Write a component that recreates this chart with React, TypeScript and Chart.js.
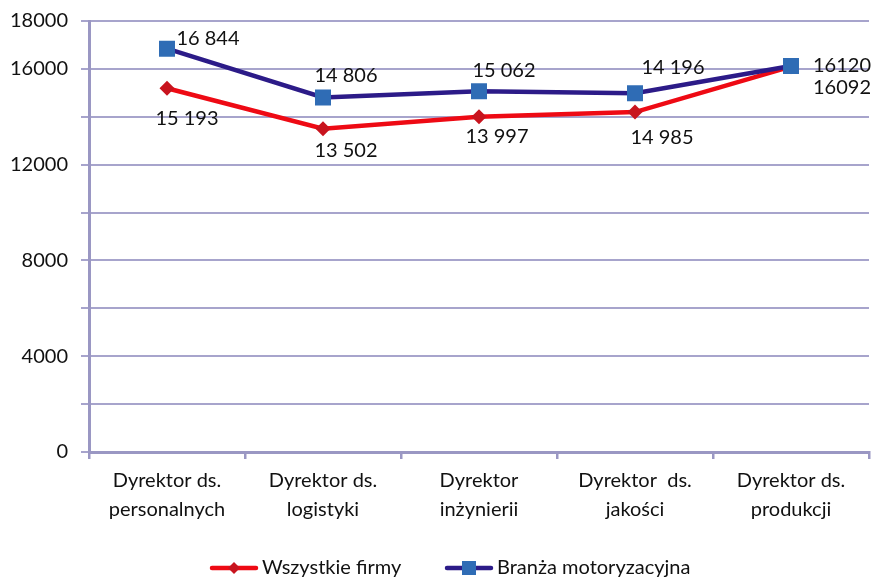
import React, { useEffect, useRef } from "react";
import { Chart, registerables } from "chart.js";

Chart.register(...registerables);

const categories: string[][] = [
  ["Dyrektor ds.", "personalnych"],
  ["Dyrektor ds.", "logistyki"],
  ["Dyrektor", "inżynierii"],
  ["Dyrektor  ds.", "jakości"],
  ["Dyrektor ds.", "produkcji"],
];

const seriesNames = ["Wszystkie firmy", "Branża motoryzacyjna"];

const wszystkieFirmy = [15193, 13502, 13997, 14196, 16092];
const branzaMotoryzacyjna = [16844, 14806, 15062, 14985, 16120];

// value labels exactly as printed on the chart
const wszystkieFirmyLabels = ["15 193", "13 502", "13 997", "14 985", "16092"];
const branzaLabels = ["16 844", "14 806", "15 062", "14 196", "16120"];

const yMin = 0;
const yMax = 18000;
const yStep = 2000;
const yLabelled = [0, 4000, 8000, 12000, 16000, 18000];

// style: label offsets (text centre relative to the point), like manual Excel placements
const redLabelOffsets = [
  [20, 30],
  [23, 22],
  [18, 20],
  [27, 25],
  [51, 21],
];
const blueLabelOffsets = [
  [41, -10],
  [23, -22],
  [25, -21],
  [38, -26],
  [51, 0],
];

const FONT = "Lato, 'Open Sans', sans-serif";
const FS = 20;
const TEXT = "#111111";
const GRID = "#a7a4cc";
const AXIS = "#9a97c3";
const RED_LINE = "#ee0a14";
const RED_MARK = "#c8141e";
const BLUE_LINE = "#2c1b88";
const BLUE_MARK = "#2f6cb5";

const valueLabelsPlugin = {
  id: "valueLabels",
  afterDatasetsDraw(chart: any) {
    const ctx = chart.ctx;
    ctx.save();
    ctx.font = `${FS}px ${FONT}`;
    ctx.fillStyle = TEXT;
    ctx.textAlign = "center";
    ctx.textBaseline = "middle";
    chart.data.datasets.forEach((ds: any, i: number) => {
      const meta = chart.getDatasetMeta(i);
      const texts: string[] = ds.valueTexts || [];
      const offs: number[][] = ds.labelOffsets || [];
      meta.data.forEach((pt: any, j: number) => {
        const o = offs[j] || [0, 0];
        ctx.fillText(texts[j], pt.x + o[0], pt.y + o[1]);
      });
    });
    ctx.restore();
  },
};

const legendPlugin = {
  id: "lineMarkerLegend",
  afterDraw(chart: any) {
    const ctx = chart.ctx;
    ctx.save();
    ctx.font = `${FS}px ${FONT}`;
    const sampleW = 48;
    const gapText = 4;
    const startX = 210;
    const pitch = 235;
    const y = 568;
    chart.data.datasets.forEach((ds: any, i: number) => {
      const x = startX + i * pitch;
      ctx.strokeStyle = ds.borderColor;
      ctx.lineWidth = 4.5;
      ctx.lineCap = "round";
      ctx.beginPath();
      ctx.moveTo(x + 2, y);
      ctx.lineTo(x + sampleW - 2, y);
      ctx.stroke();
      const cx = x + sampleW / 2;
      ctx.fillStyle = ds.pointBackgroundColor;
      ctx.beginPath();
      if (ds.pointStyle === "rectRot") {
        const r = 6;
        ctx.moveTo(cx, y - r);
        ctx.lineTo(cx + r, y);
        ctx.lineTo(cx, y + r);
        ctx.lineTo(cx - r, y);
        ctx.closePath();
      } else {
        ctx.rect(cx - 7, y - 7, 14, 14);
      }
      ctx.fill();
      ctx.fillStyle = TEXT;
      ctx.textAlign = "left";
      ctx.textBaseline = "middle";
      ctx.fillText(ds.label, x + sampleW + gapText, y);
    });
    ctx.restore();
  },
};

export default function App() {
  const ref = useRef<HTMLCanvasElement | null>(null);

  useEffect(() => {
    if (!ref.current) return;
    const chart = new Chart(ref.current, {
      type: "line",
      data: {
        labels: categories,
        datasets: [
          {
            label: seriesNames[0],
            data: wszystkieFirmy,
            borderColor: RED_LINE,
            borderWidth: 4.5,
            pointStyle: "rectRot",
            pointRadius: 7.5,
            pointBackgroundColor: RED_MARK,
            pointBorderColor: RED_MARK,
            pointBorderWidth: 0,
            tension: 0,
            order: 1,
            valueTexts: wszystkieFirmyLabels,
            labelOffsets: redLabelOffsets,
          } as any,
          {
            label: seriesNames[1],
            data: branzaMotoryzacyjna,
            borderColor: BLUE_LINE,
            borderWidth: 4.5,
            pointStyle: "rect",
            pointRadius: 11.3,
            pointBackgroundColor: BLUE_MARK,
            pointBorderColor: BLUE_MARK,
            pointBorderWidth: 0,
            tension: 0,
            order: 0,
            valueTexts: branzaLabels,
            labelOffsets: blueLabelOffsets,
          } as any,
        ],
      },
      options: {
        responsive: false,
        animation: false,
        layout: { autoPadding: false, padding: { top: 21, right: 4, left: 0, bottom: 0 } },
        plugins: {
          legend: { display: false },
          tooltip: { enabled: false },
        },
        scales: {
          x: {
            type: "category",
            offset: true,
            grid: {
              offset: true,
              drawOnChartArea: false,
              drawTicks: true,
              tickLength: 7,
              color: AXIS,
              lineWidth: 2.5,
            },
            border: { display: true, color: AXIS, width: 3 },
            ticks: {
              color: TEXT,
              padding: 7,
              maxRotation: 0,
              autoSkip: false,
              font: { family: FONT, size: FS, lineHeight: 1.45 },
            },
            afterFit: (s: any) => {
              s.height = 125;
              s.paddingLeft = 0;
              s.paddingRight = 0;
            },
          },
          y: {
            min: yMin,
            max: yMax,
            grid: {
              color: GRID,
              lineWidth: 2,
              tickLength: 8,
              drawTicks: true,
            },
            border: { display: true, color: AXIS, width: 3 },
            ticks: {
              stepSize: yStep,
              color: TEXT,
              padding: 13,
              font: { family: FONT, size: FS },
              callback: (v: any) => (yLabelled.includes(Number(v)) ? String(v) : ""),
            },
            afterFit: (s: any) => {
              s.width = 89;
              s.paddingTop = 0;
              s.paddingBottom = 0;
            },
          },
        },
      },
      plugins: [valueLabelsPlugin, legendPlugin],
    });
    return () => chart.destroy();
  }, []);

  return (
    <div style={{ position: "absolute", left: 0, top: 0, width: 873, height: 577 }}>
      <canvas ref={ref} width={873} height={577} style={{ display: "block" }} />
    </div>
  );
}
